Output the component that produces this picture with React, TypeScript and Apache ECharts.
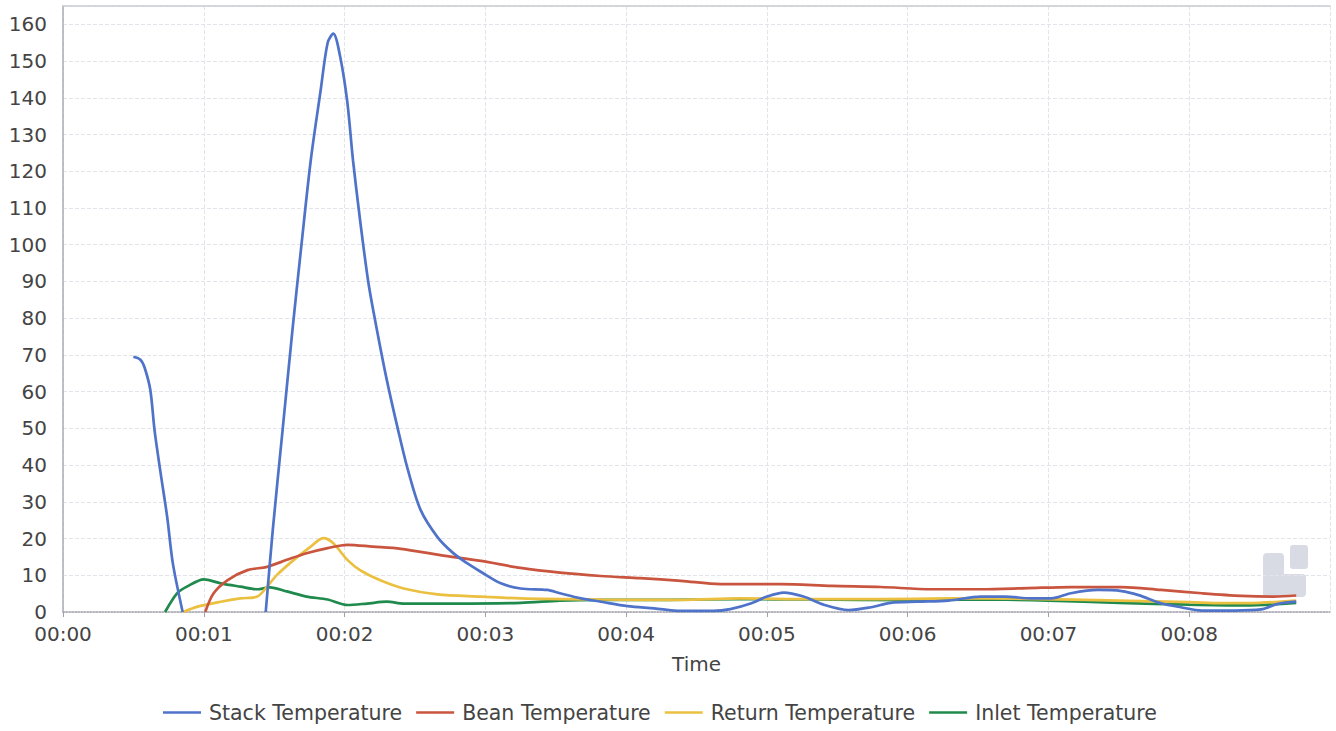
import React, { useEffect, useRef } from "react";
import * as echarts from "echarts";

const seriesNames = ["Stack Temperature", "Bean Temperature", "Return Temperature", "Inlet Temperature"];
const seriesColors = ["#4f73c9", "#c9553f", "#ebc040", "#1f8a4c"];

// time in minutes, value
const stackT = [0.5, 0.55, 0.58, 0.62, 0.65, 0.69, 0.74, 0.78, 0.85, 1.1, 1.44, 1.49, 1.56, 1.63, 1.69, 1.76, 1.83, 1.88, 1.92, 1.97, 2.02, 2.06, 2.11, 2.17, 2.23, 2.3, 2.38, 2.45, 2.54, 2.66, 2.77, 2.87, 2.97, 3.11, 3.25, 3.44, 3.53, 3.68, 3.82, 4.01, 4.2, 4.39, 4.62, 4.74, 4.89, 5.0, 5.12, 5.26, 5.41, 5.58, 5.74, 5.88, 6.07, 6.29, 6.52, 6.69, 6.88, 7.02, 7.16, 7.35, 7.52, 7.64, 7.8, 7.94, 8.09, 8.32, 8.51, 8.63, 8.76];
const stackV = [69.5, 68.7, 66.5, 60.5, 49.6, 38.7, 25.9, 13.3, 0, null, 0, 22.3, 49.6, 76.8, 98.6, 123, 142, 155, 157.5, 151, 138.7, 123, 106.8, 89.5, 76.8, 63.2, 49.6, 38.7, 27.8, 20.4, 16.1, 13.3, 10.9, 7.8, 6.4, 6.0, 5.1, 3.7, 2.8, 1.6, 1.0, 0.3, 0.3, 0.8, 2.4, 4.2, 5.3, 4.2, 1.9, 0.5, 1.3, 2.5, 2.8, 3.1, 4.2, 4.2, 3.7, 3.7, 5.1, 6.0, 5.7, 4.6, 2.4, 1.3, 0.4, 0.4, 0.7, 2.2, 2.8];

const beanT = [1.01, 1.07, 1.17, 1.31, 1.45, 1.59, 1.73, 1.88, 2.02, 2.2, 2.4, 2.68, 2.97, 3.25, 3.53, 3.82, 4.1, 4.39, 4.67, 4.9, 5.1, 5.46, 5.81, 6.17, 6.52, 6.85, 7.16, 7.52, 7.8, 8.09, 8.37, 8.6, 8.76];
const beanV = [0, 5.1, 8.7, 11.4, 12.3, 14.2, 16.0, 17.4, 18.3, 17.8, 17.2, 15.5, 13.9, 12.0, 10.7, 9.8, 9.2, 8.5, 7.6, 7.6, 7.6, 7.1, 6.8, 6.2, 6.2, 6.5, 6.8, 6.8, 6.0, 5.1, 4.4, 4.2, 4.5];

const returnT = [0.855, 0.95, 1.12, 1.26, 1.38, 1.45, 1.52, 1.64, 1.76, 1.85, 1.92, 2.02, 2.11, 2.25, 2.42, 2.66, 2.97, 3.25, 3.82, 4.39, 4.81, 5.3, 5.8, 6.3, 6.85, 7.5, 8.0, 8.23, 8.5, 8.76];
const returnV = [0, 1.4, 2.8, 3.7, 4.2, 6.9, 10.1, 14.2, 17.8, 20.1, 18.7, 14.2, 11.4, 8.7, 6.4, 4.8, 4.2, 3.7, 3.4, 3.3, 3.7, 3.5, 3.5, 3.7, 3.6, 3.1, 2.7, 2.4, 2.5, 3.1];

const inletT = [0.725, 0.81, 0.88, 1.0, 1.12, 1.26, 1.38, 1.47, 1.59, 1.73, 1.88, 2.02, 2.16, 2.3, 2.42, 2.78, 3.25, 3.53, 3.8, 4.3, 4.8, 5.3, 6.0, 6.5, 7.0, 7.5, 8.0, 8.4, 8.76];
const inletV = [0, 5.1, 6.9, 8.9, 7.8, 6.9, 6.2, 6.7, 5.6, 4.2, 3.4, 1.9, 2.3, 2.8, 2.3, 2.3, 2.5, 3.1, 3.3, 3.3, 3.5, 3.4, 3.2, 3.4, 3.1, 2.5, 2.0, 1.8, 2.5];

const xTickMinutes = [0, 1, 2, 3, 4, 5, 6, 7, 8];

function pairs(t: number[], v: (number | null)[]) {
  return t.map((x, i) => [x, v[i]]);
}

export default function App() {
  const ref = useRef<HTMLDivElement>(null);
  useEffect(() => {
    document.body.style.margin = "0";
    const chart = echarts.init(ref.current!, null, { renderer: "svg" });
    const font = "DejaVu Sans";
    const textColor = "#444";
    const data = [pairs(stackT, stackV), pairs(beanT, beanV), pairs(returnT, returnV), pairs(inletT, inletV)];
    chart.setOption({
      animation: false,
      textStyle: { fontFamily: font },
      grid: { left: 63, right: 6, top: 6, bottom: 119 },
      legend: {
        data: seriesNames.map((n) => ({ name: n, icon: "rect" })),
        left: 158,
        top: 697,
        itemWidth: 38,
        itemHeight: 2.5,
        itemGap: 14,
        textStyle: { fontSize: 20.5, color: textColor, fontFamily: font, padding: [0, 0, 0, 3] },
      },
      xAxis: [
        {
          type: "value",
          min: 0,
          max: 9,
          interval: 1,
          name: "Time",
          nameLocation: "middle",
          nameGap: 42,
          nameTextStyle: { fontSize: 20, color: textColor, fontFamily: font },
          axisLine: { lineStyle: { color: "#a0a0a8", width: 1.5, type: "dotted" } },
          axisTick: { show: true, length: 5, lineStyle: { color: "#a0a0a8" } },
          axisLabel: {
            fontSize: 20,
            color: textColor,
            margin: 12,
            showMaxLabel: false,
            formatter: (v: number) => (xTickMinutes.includes(v) ? "00:" + String(v).padStart(2, "0") : ""),
          },
          splitLine: { show: true, lineStyle: { color: "#e2e4ea", type: "dashed" } },
        },
        {
          type: "value",
          position: "top",
          min: 0,
          max: 9,
          axisLine: { show: true, lineStyle: { color: "#c8cbd3", width: 1.5 } },
          axisTick: { show: false },
          axisLabel: { show: false },
          splitLine: { show: false },
        },
      ],
      yAxis: {
        type: "value",
        min: 0,
        max: 165,
        interval: 10,
        axisLine: { show: true, lineStyle: { color: "#a8acb6", width: 1.5 } },
        axisTick: { show: false },
        axisLabel: { fontSize: 20, color: textColor, margin: 16, showMaxLabel: false },
        splitLine: { show: true, lineStyle: { color: "#e2e4ea", type: "dashed" } },
      },
      graphic: [
        { type: "rect", shape: { x: 1263, y: 553, width: 21, height: 44, r: 4 }, style: { fill: "#d8dbe3" }, silent: true },
        { type: "rect", shape: { x: 1263, y: 574, width: 43, height: 23, r: 4 }, style: { fill: "#d8dbe3" }, silent: true },
        { type: "rect", shape: { x: 1290, y: 545, width: 18, height: 24, r: 3 }, style: { fill: "#d8dbe3" }, silent: true },
      ],
      series: seriesNames.map((n, i) => ({
        name: n,
        type: "line",
        data: data[i],
        symbol: "none",
        smooth: 0.3,
        connectNulls: false,
        lineStyle: { color: seriesColors[i], width: 2.7 },
        itemStyle: { color: seriesColors[i] },
        z: 4 - i,
      })),
    });
    return () => chart.dispose();
  }, []);
  return <div ref={ref} style={{ width: 1336, height: 731 }} />;
}
